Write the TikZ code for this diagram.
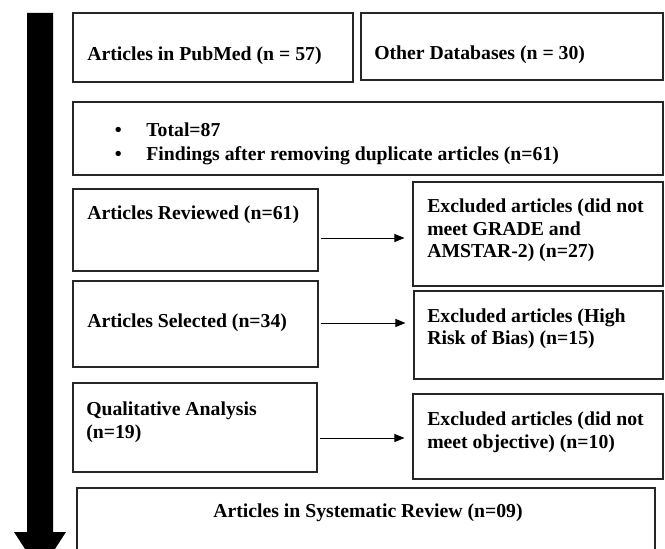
\documentclass[tikz,border=0pt]{standalone}
\usepackage{fontspec}
\setmainfont{Liberation Serif}
\usepackage{tikz}
\usetikzlibrary{arrows.meta,fit,positioning}

\tikzset{
  box/.style={draw=black!85, line width=0.8pt, inner sep=0pt},
  lbl/.style={font=\fontsize{14.8}{17}\selectfont\bfseries, inner sep=0pt, anchor=base west, align=left},
  flow/.style={-{Triangle[length=7.5pt,width=6pt]}, line width=0.7pt, shorten <=1.5pt, shorten >=6pt}
}

\begin{document}
\begin{tikzpicture}[x=0.75pt,y=0.75pt,yscale=-1,xscale=1]
\useasboundingbox (0,0) rectangle (665,549);
\clip (0,0) rectangle (665,549);

%Shape: Big Arrow
\fill (27,13) -- (53,13) -- (53,532) -- (66,532) -- (40,572) -- (14,532) -- (27,532) -- cycle ;

%Shape: Rectangle [pubmed]
\node[box, fit={(73,13) (353,82)}] (pubmed) {};
\node[lbl] (pubmedtxt) at (87,61) {Articles in PubMed (n = 57)};
%Shape: Rectangle [otherdb]
\node[box, fit={(361,13) (663,80)}] (otherdb) {};
\node[lbl] (otherdbtxt) at (374,60) {Other Databases (n = 30)};

%Shape: Rectangle [total] (base = last line)
\node[box, fit={(73,102) (663,175)}] (total) {};
\node[lbl, font=\fontsize{14.8}{18}\selectfont\bfseries] (totaltxt) at (114.5,161)
  {\begin{tabular}[b]{@{}l@{\hspace{18.5pt}}l@{}}
   \textbullet & Total=87\\
   \textbullet & Findings after removing duplicate articles (n=61)
   \end{tabular}};

%Shape: Rectangle [reviewed]
\node[box, fit={(73,189) (318,271)}] (reviewed) {};
\node[lbl] (reviewedtxt) at (87,220) {Articles Reviewed (n=61)};
%Shape: Rectangle [excl1]
\node[box, fit={(413,182) (663,286)}] (excl1) {};
\node[lbl] (excl1txt) at (427,258) {Excluded articles (did not\\meet GRADE and\\AMSTAR-2) (n=27)};

%Shape: Rectangle [selected]
\node[box, fit={(73,281) (318,367)}] (selected) {};
\node[lbl] (selectedtxt) at (87,328) {Articles Selected (n=34)};
%Shape: Rectangle [excl2]
\node[box, fit={(414,291) (663,379)}] (excl2) {};
\node[lbl] (excl2txt) at (427,345) {Excluded articles (High\\Risk of Bias) (n=15)};

%Shape: Rectangle [qualitative]
\node[box, fit={(73,383) (317,472)}] (qualitative) {};
\node[lbl] (qualitativetxt) at (86,438) {Qualitative Analysis\\(n=19)};
%Shape: Rectangle [excl3]
\node[box, fit={(413,394) (663,479)}] (excl3) {};
\node[lbl] (excl3txt) at (427,448) {Excluded articles (did not\\meet objective) (n=10)};

%Shape: Rectangle [review] (runs off the page)
\node[box, fit={(77,488) (655,565)}] (review) {};
\node[lbl] (reviewtxt) at (213,517) {Articles in Systematic Review (n=09)};

%Straight Lines
\draw[flow] (reviewed.east |- 0,238) -- (excl1.west |- 0,238) ;
\draw[flow] (selected.east |- 0,323) -- (excl2.west |- 0,323) ;
\draw[flow] (qualitative.east |- 0,438) -- (excl3.west |- 0,438) ;

\end{tikzpicture}
\end{document}
